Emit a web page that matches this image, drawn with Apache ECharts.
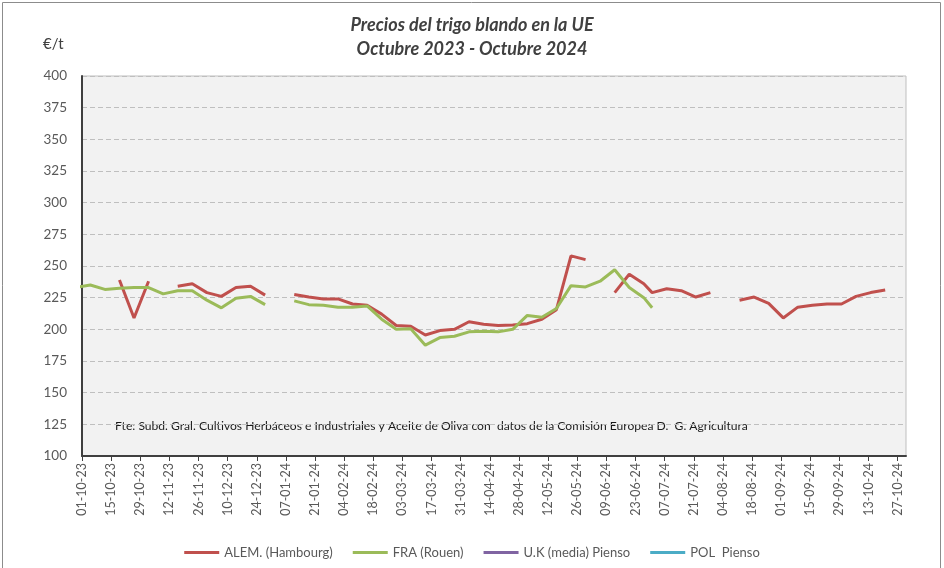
<!DOCTYPE html>
<html>
<head>
<meta charset="utf-8">
<script src="https://cdn.jsdelivr.net/npm/echarts@6/dist/echarts.min.js"></script>
<style>
html,body{margin:0;padding:0;background:#fff;}
#chart{width:944px;height:568px;}
</style>
</head>
<body>
<div id="chart"></div>
<script>
// ---- data ----
const dates = [
  '2023-09-28','2023-10-05','2023-10-12','2023-10-19','2023-10-26','2023-11-02','2023-11-09','2023-11-16',
  '2023-11-23','2023-11-30','2023-12-07','2023-12-14','2023-12-21','2023-12-28','2024-01-04','2024-01-11',
  '2024-01-18','2024-01-25','2024-02-01','2024-02-08','2024-02-15','2024-02-22','2024-02-29','2024-03-07',
  '2024-03-14','2024-03-21','2024-03-28','2024-04-04','2024-04-11','2024-04-18','2024-04-25','2024-05-02',
  '2024-05-09','2024-05-16','2024-05-23','2024-05-30','2024-06-06','2024-06-13','2024-06-20','2024-06-27',
  '2024-07-01','2024-07-08','2024-07-15','2024-07-22','2024-07-29','2024-08-05','2024-08-12','2024-08-19',
  '2024-08-26','2024-09-02','2024-09-09','2024-09-16','2024-09-23','2024-09-30','2024-10-07','2024-10-14',
  '2024-10-21'
];
const alem = [
  null,null,null,239,209,238,null,234,
  236,229,226,233,234,227,null,227.5,
  225.5,224,224,220,219,212,203,202.5,
  195.5,199,200,206,204,203,203.5,204.5,
  208,215.5,258,255,null,229,243.5,236,
  229,232,230.5,225.5,229,null,223,225.5,
  220.5,209,217.5,219,220,220,226,229,
  231
];
const fra = [
  233,235,231.5,232.5,233,233,228,230.5,
  230.5,223,217,224.5,226,219.5,null,222.5,
  219.5,219,217.5,217.5,218.5,208,200,200.5,
  187.5,193.5,194.5,198,198.5,198,200,211,
  209.5,216.5,234.5,233.5,238,247,233,225,
  217,null,null,null,null,null,null,null,
  null,null,null,null,null,null,null,null,
  null
];
const ukPienso = [];
const polPienso = [];
const seriesNames = ['ALEM. (Hambourg)','FRA (Rouen)','U.K (media) Pienso','POL  Pienso'];
const tickLabels = [
  '01-10-23','15-10-23','29-10-23','12-11-23','26-11-23','10-12-23','24-12-23','07-01-24',
  '21-01-24','04-02-24','18-02-24','03-03-24','17-03-24','31-03-24','14-04-24','28-04-24',
  '12-05-24','26-05-24','09-06-24','23-06-24','07-07-24','21-07-24','04-08-24','18-08-24',
  '01-09-24','15-09-24','29-09-24','13-10-24','27-10-24'
];
const axisStart = '2023-10-01';
const axisEnd = '2024-10-31';
const yTicks = {min:100, max:400, step:25};
const titleText = 'Precios del trigo blando en la UE\nOctubre 2023 - Octubre 2024';
const unitText = '€/t';
const sourceText = 'Fte: Subd. Gral. Cultivos Herbáceos e Industriales y Aceite de Oliva con  datos de la Comisión Europea D.  G. Agricultura';

// ---- helpers ----
const DAY = 86400000;
const t0 = Date.parse(axisStart + 'T00:00:00Z');
const dayOf = s => Math.round((Date.parse(s + 'T00:00:00Z') - t0) / DAY);
const dayOfLabel = l => { const [d,m,y] = l.split('-'); return dayOf('20'+y+'-'+m+'-'+d); };
const labelOfDay = v => { const dt = new Date(t0 + v*DAY); const p = n => String(n).padStart(2,'0'); return p(dt.getUTCDate())+'-'+p(dt.getUTCMonth()+1)+'-'+String(dt.getUTCFullYear()).slice(2); };
const tickDays = tickLabels.map(dayOfLabel);
const pairs = arr => dates.map((d,i) => [dayOf(d), arr[i] == null ? '-' : arr[i]]);

const FONT = 'Lato, "Open Sans", sans-serif';
const colors = ['#c0504d','#9bbb59','#8064a2','#4bacc6'];

const chart = echarts.init(document.getElementById('chart'), null, {renderer:'canvas'});
chart.setOption({
  animation:false,
  color: colors,
  textStyle:{fontFamily:FONT},
  title:{
    text:titleText, left:'center', top:8,
    textStyle:{fontFamily:FONT, fontStyle:'italic', fontWeight:'bold', fontSize:18, lineHeight:24, color:'#404040'}
  },
  graphic:[
    {type:'rect', shape:{x:2.5,y:2.5,width:938,height:580}, style:{fill:'none', stroke:'#8c8c8c', lineWidth:1}, silent:true},
    {type:'text', left:43, top:37, style:{text:unitText, font:'15px '+FONT, fill:'#404040'}},
    {type:'text', left:115, top:420, style:{text:sourceText, font:'12.1px '+FONT, fill:'#1a1a1a'}}
  ],
  legend:{
    top:541, left:'center',
    icon:'rect', itemWidth:35, itemHeight:3, itemGap:20,
    textStyle:{fontFamily:FONT, fontSize:13, color:'#595959'},
    data: seriesNames
  },
  grid:{left:82, right:38, top:76, bottom:112, show:true, backgroundColor:'#f2f2f2', borderColor:'#bfbfbf', borderWidth:1, containLabel:false},
  xAxis:{
    type:'value', min:0, max:dayOf(axisEnd),
    axisLine:{show:true, onZero:false, lineStyle:{color:'#404040', width:2}},
    axisTick:{show:true, length:5, lineStyle:{color:'#404040', width:1}, customValues:tickDays},
    axisLabel:{rotate:90, margin:7, fontFamily:FONT, fontSize:12.5, color:'#595959', customValues:tickDays, formatter:v => labelOfDay(v)},
    splitLine:{show:false}
  },
  yAxis:{
    type:'value', min:yTicks.min, max:yTicks.max, interval:yTicks.step,
    axisLine:{show:true, lineStyle:{color:'#404040', width:2}},
    axisTick:{show:false},
    axisLabel:{margin:15, fontFamily:FONT, fontSize:13.5, color:'#595959'},
    splitLine:{show:true, lineStyle:{color:'#bfbfbf', width:1, type:[5,3]}}
  },
  series:[
    {name:seriesNames[0], type:'line', data:pairs(alem), showSymbol:false, symbol:'none', lineStyle:{width:3, color:colors[0]}, connectNulls:false, clip:true, z:2},
    {name:seriesNames[1], type:'line', data:pairs(fra), showSymbol:false, symbol:'none', lineStyle:{width:3, color:colors[1]}, connectNulls:false, clip:true, z:3},
    {name:seriesNames[2], type:'line', data:ukPienso, showSymbol:false, symbol:'none', lineStyle:{width:3, color:colors[2]}},
    {name:seriesNames[3], type:'line', data:polPienso, showSymbol:false, symbol:'none', lineStyle:{width:3, color:colors[3]}}
  ]
});
</script>
</body>
</html>
